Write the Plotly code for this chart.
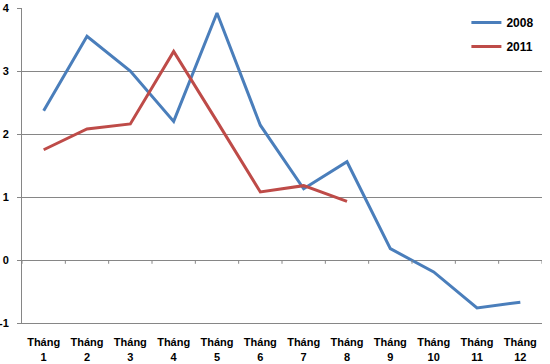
import plotly.graph_objects as go

months = list(range(1, 13))
tick_labels = [f"<b>Tháng<br>{m}</b>" for m in months]
y2008 = [2.37, 3.55, 3.0, 2.2, 3.92, 2.14, 1.13, 1.56, 0.18, -0.19, -0.76, -0.67]
y2011 = [1.75, 2.08, 2.16, 3.31, 2.2, 1.08, 1.18, 0.93]
y_ticks = [-1, 0, 1, 2, 3, 4]
boundaries = [m + 0.5 for m in range(0, 13)]

fig = go.Figure()
fig.add_trace(go.Scatter(x=months, y=y2008, mode="lines", name="<b>2008</b>",
                         legendgroup="a", line=dict(color="#4A7EBB", width=3)))
fig.add_trace(go.Scatter(x=months[:len(y2011)], y=y2011, mode="lines", name="<b>2011</b>",
                         legendgroup="b", line=dict(color="#BE4B48", width=3)))
# category-axis tick marks along y = 0
fig.add_trace(go.Scatter(x=boundaries, y=[0] * len(boundaries), mode="markers",
                         marker=dict(size=1, color="rgba(0,0,0,0)"),
                         error_y=dict(type="data", symmetric=False, array=[0] * len(boundaries),
                                      arrayminus=[0.06] * len(boundaries), width=0,
                                      color="#868686", thickness=1),
                         showlegend=False, hoverinfo="skip"))

fig.update_layout(
    width=550, height=364,
    margin=dict(l=22, r=8, t=8, b=41),
    plot_bgcolor="white", paper_bgcolor="white",
    font=dict(family="Liberation Sans, Arial", size=11, color="black"),
    xaxis=dict(range=[0.5, 12.5], tickvals=months, ticktext=tick_labels,
               showgrid=False, zeroline=False, showline=True, linecolor="#868686",
               ticks="", tickfont=dict(size=11), automargin=False, ticklabelstandoff=9),
    yaxis=dict(range=[-1, 4], tickvals=y_ticks, ticktext=[f"<b>{v}</b>" for v in y_ticks],
               showgrid=True, gridcolor="#868686", gridwidth=1, zeroline=False,
               showline=True, linecolor="#868686", ticks="outside", ticklen=4,
               tickcolor="#868686", tickfont=dict(size=11),
               automargin=False, ticklabelstandoff=6),
    legend=dict(x=0.995, y=1.0, xanchor="right", yanchor="top", bgcolor="rgba(0,0,0,0)",
                font=dict(size=12), tracegroupgap=5),
    showlegend=True,
)
fig.write_html("out.html", config={"displayModeBar": False},
               post_script="document.body.style.margin='0';")
